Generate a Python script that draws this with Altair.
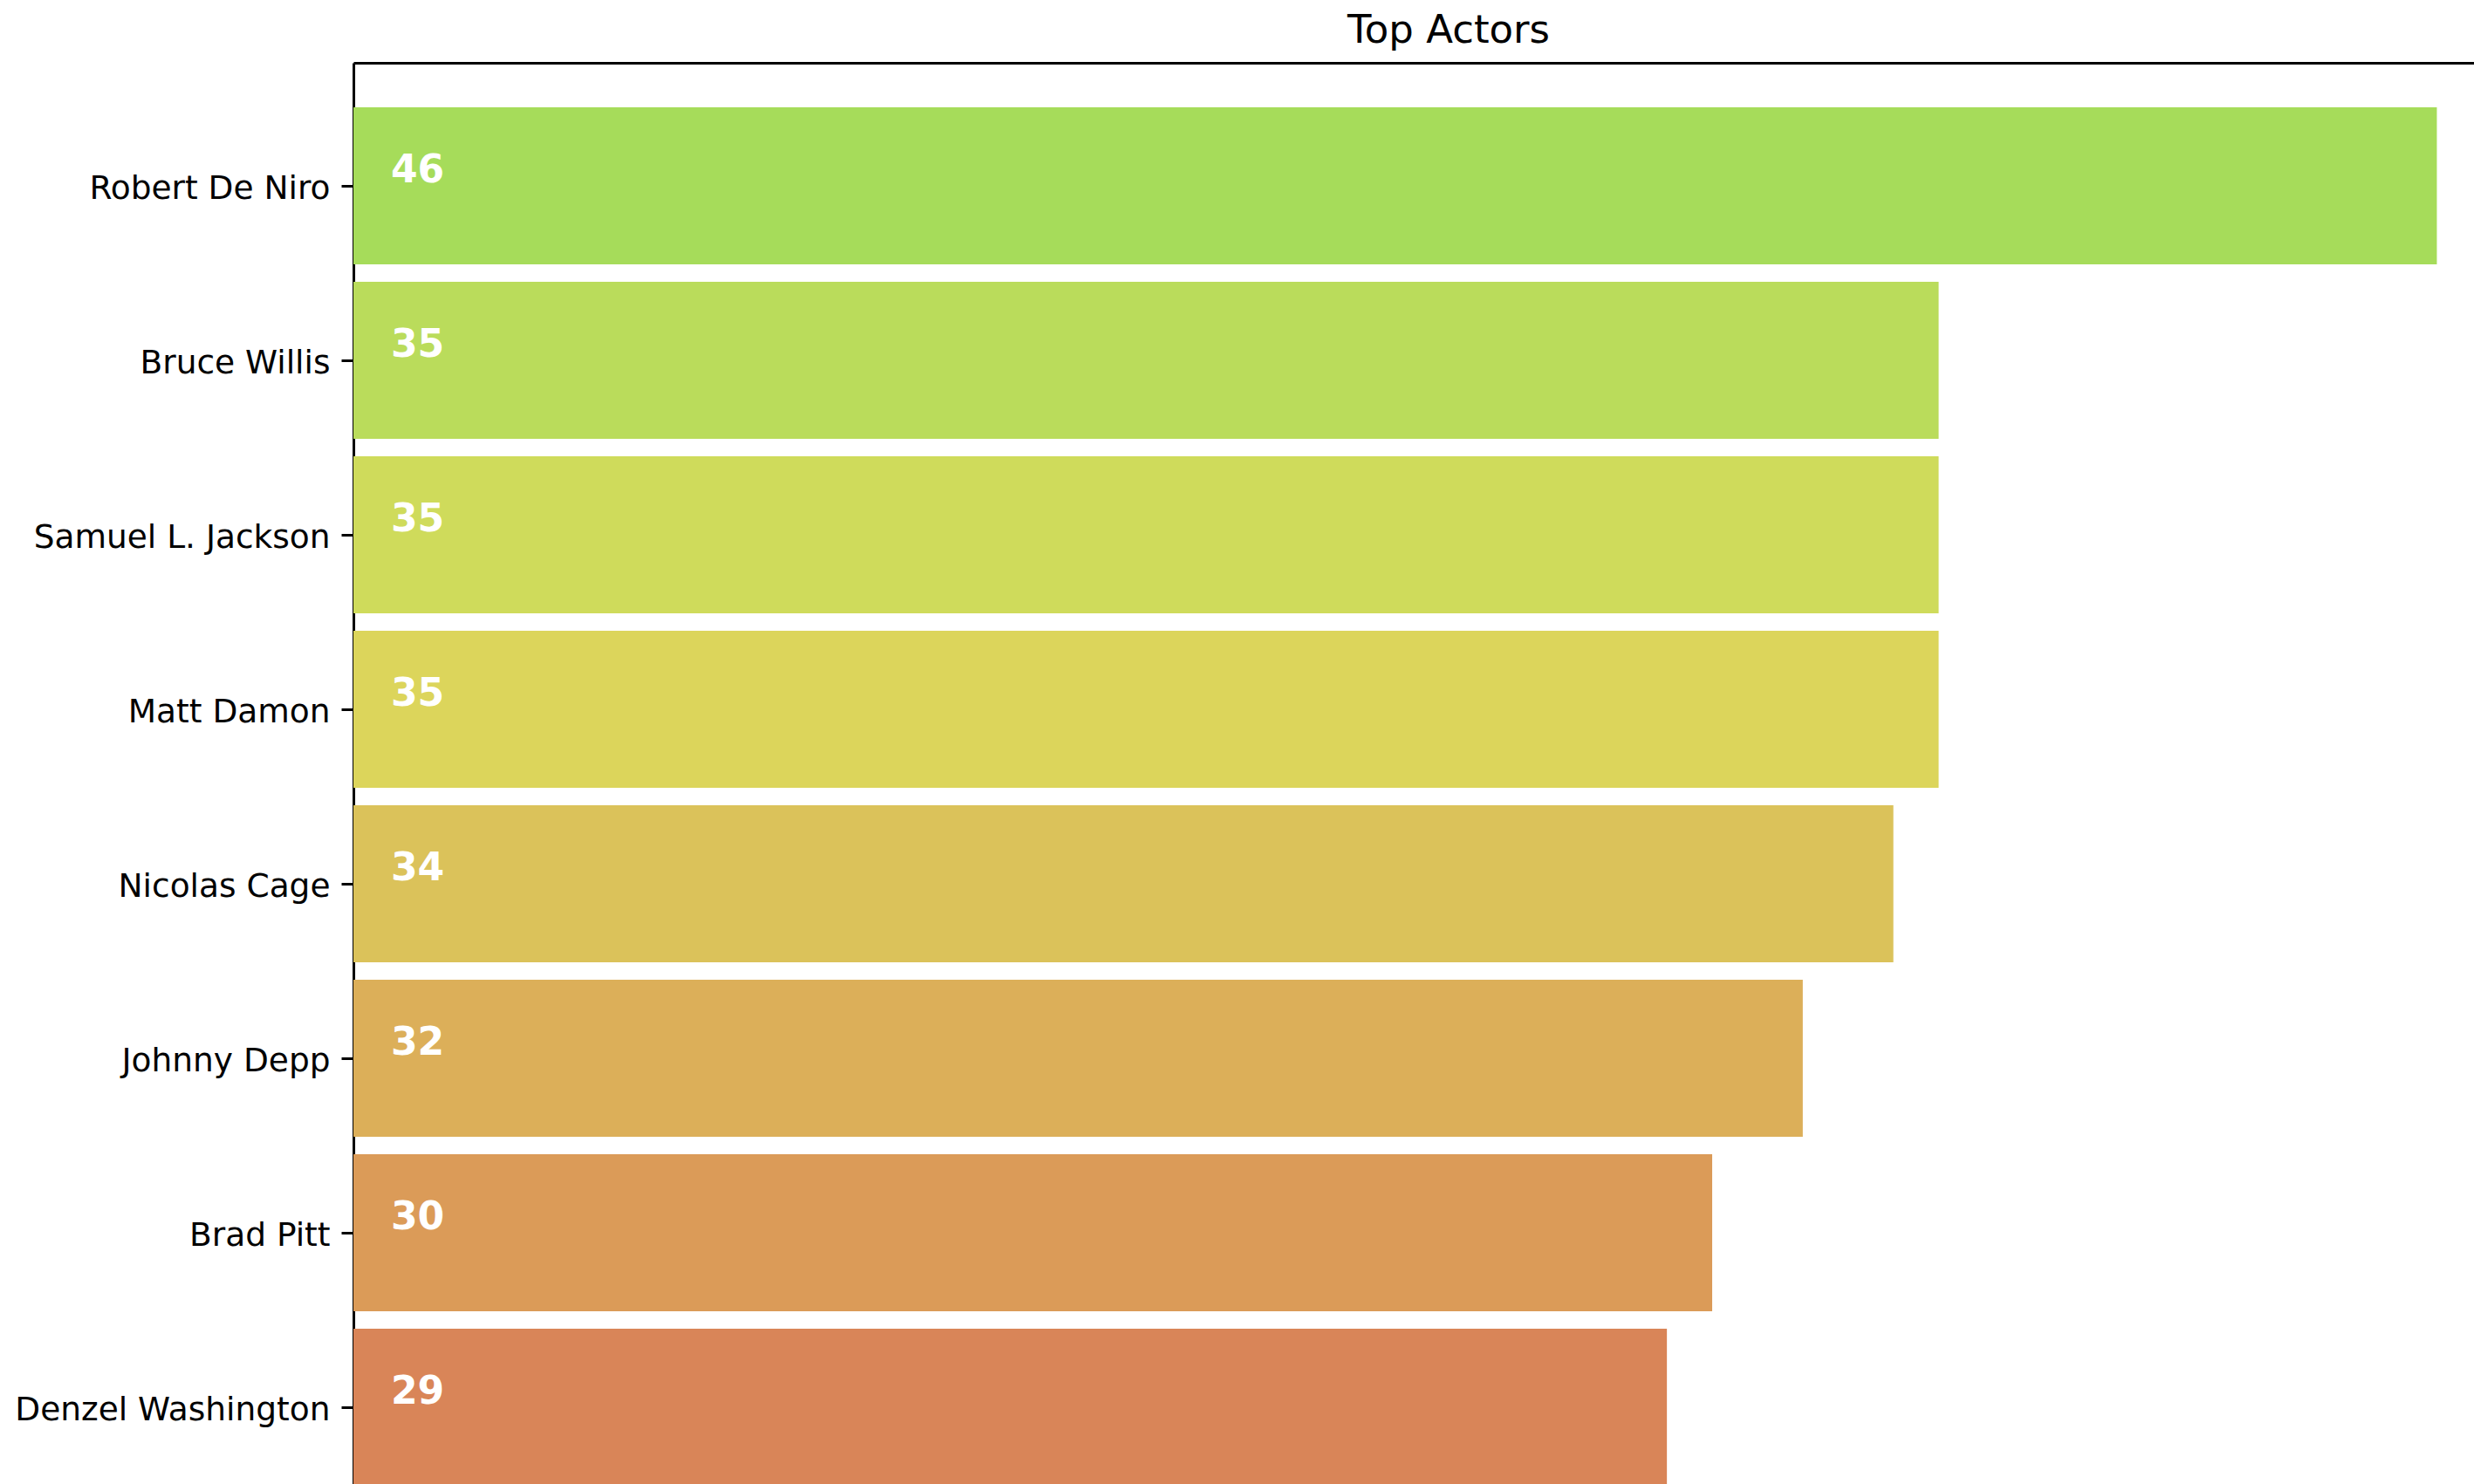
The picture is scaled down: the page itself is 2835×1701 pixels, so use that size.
import altair as alt
import pandas as pd

actors = ["Robert De Niro", "Bruce Willis", "Samuel L. Jackson", "Matt Damon",
          "Nicolas Cage", "Johnny Depp", "Brad Pitt", "Denzel Washington"]
counts = [46, 35, 35, 35, 34, 32, 30, 29]
colors = ["#a6dc5a", "#badc5b", "#cfdb5b", "#dcd55b",
          "#dbc25a", "#dcaf59", "#db9b58", "#d98558"]

df = pd.DataFrame({"actor": actors, "count": counts})

FONT = "DejaVu Sans"

y_enc = alt.Y(
    "actor:N",
    sort=actors,
    scale=alt.Scale(range=[0, 1682], paddingInner=0.1, paddingOuter=0.255),
    axis=alt.Axis(
        title=None,
        labelFont=FONT,
        labelFontSize=37.5,
        labelColor="#000000",
        labelPadding=13,
        labelOffset=4,
        labelLimit=0,
        tickSize=14,
        tickWidth=3,
        tickColor="#000000",
        domainColor="#000000",
        domainWidth=3,
        grid=False,
    ),
)

x_scale = alt.Scale(domain=[0, 46.82], nice=False, zero=True)

bars = alt.Chart(df).mark_bar(clip=True).encode(
    y=y_enc,
    x=alt.X(
        "count:Q",
        scale=x_scale,
        axis=alt.Axis(orient="top", labels=False, ticks=False, grid=False,
                      domain=True, domainColor="#000000", domainWidth=3,
                      title=None),
    ),
    color=alt.Color("actor:N", sort=actors,
                    scale=alt.Scale(domain=actors, range=colors), legend=None),
)

labels = alt.Chart(df).mark_text(
    align="left", baseline="alphabetic", dx=43, dy=-4, font=FONT,
    fontSize=44, fontWeight="bold", color="white",
).encode(
    y=alt.Y("actor:N", sort=actors),
    x=alt.datum(0, scale=x_scale),
    text=alt.Text("count:Q"),
)

chart = alt.layer(bars, labels).properties(
    width=2430,
    height=1629,
    title=alt.TitleParams(
        "Top Actors", font=FONT, fontSize=45, fontWeight="normal",
        color="#000000", anchor="middle", dx=40, offset=22, dy=44,
        baseline="alphabetic",
    ),
    autosize=alt.AutoSizeParams(type="none"),
    padding={"left": 405, "top": 72, "right": 0, "bottom": 0},
).configure_view(stroke=None).configure(background="white")

chart.save("out.html", embed_options={"renderer": "svg", "actions": False})
